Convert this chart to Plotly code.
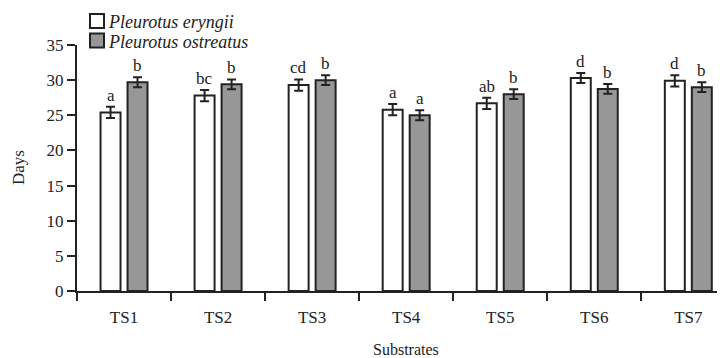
import plotly.graph_objects as go

categories = ["TS1", "TS2", "TS3", "TS4", "TS5", "TS6", "TS7"]
eryngii = [25.4, 27.8, 29.3, 25.8, 26.7, 30.3, 29.9]
eryngii_err = [0.8, 0.8, 0.8, 0.8, 0.8, 0.7, 0.8]
eryngii_letters = ["a", "bc", "cd", "a", "ab", "d", "d"]
ostreatus = [29.7, 29.4, 30.0, 25.0, 28.0, 28.75, 29.0]
ostreatus_err = [0.7, 0.7, 0.7, 0.7, 0.7, 0.7, 0.7]
ostreatus_letters = ["b", "b", "b", "a", "b", "b", "b"]
series_names = ["Pleurotus eryngii", "Pleurotus ostreatus"]
series_colors = ["white", "#979797"]

FONT = "Liberation Serif, Times New Roman, serif"
INK = "#222"

# page body has an 8px margin; figure occupies 8..725 x 8..358
W, H = 717, 350
L, T, B = 69, 37, 67
PW, PH = W - L, H - T - B

fig = go.Figure()
for name, vals, errs, col in [(series_names[0], eryngii, eryngii_err, series_colors[0]),
                              (series_names[1], ostreatus, ostreatus_err, series_colors[1])]:
    fig.add_trace(go.Bar(
        x=categories, y=vals, name=name,
        marker=dict(color=col, line=dict(color=INK, width=2)),
        error_y=dict(type="data", array=errs, color=INK, thickness=2, width=4.5),
    ))

annotations = []
for i, c in enumerate(categories):
    annotations.append(dict(x=c, y=eryngii[i] + eryngii_err[i], text=eryngii_letters[i],
                            xref="x", yref="y", showarrow=False, yanchor="bottom",
                            xshift=-13.5, yshift=0, font=dict(family=FONT, size=17, color=INK)))
    annotations.append(dict(x=c, y=ostreatus[i] + ostreatus_err[i], text=ostreatus_letters[i],
                            xref="x", yref="y", showarrow=False, yanchor="bottom",
                            xshift=13.5, yshift=0, font=dict(family=FONT, size=17, color=INK)))

# axis titles
annotations.append(dict(x=3.0, xref="x", y=(PH - (341 - T)) / PH, yref="paper",
                        text="Substrates", showarrow=False, yanchor="middle",
                        font=dict(family=FONT, size=16, color=INK)))
annotations.append(dict(x=(10 - L) / PW, xref="paper", y=(PH - (160 - T)) / PH, yref="paper",
                        text="Days", textangle=-90, showarrow=False, xanchor="center", yanchor="middle",
                        font=dict(family=FONT, size=17, color=INK)))

# legend (drawn as boxes + italic labels)
shapes = []
leg_y = [13, 32.5]  # centre y (figure px)
for k in range(2):
    y0 = (PH - (leg_y[k] + 7 - T)) / PH
    y1 = (PH - (leg_y[k] - 7 - T)) / PH
    shapes.append(dict(type="rect", xref="paper", yref="paper",
                       x0=(82 - L) / PW, x1=(96 - L) / PW, y0=y0, y1=y1,
                       fillcolor=series_colors[k], line=dict(color=INK, width=2)))
    annotations.append(dict(x=(98 - L) / PW, xref="paper", y=(PH - (leg_y[k] + 1 - T)) / PH, yref="paper",
                            text="<i>" + series_names[k] + "</i>", showarrow=False,
                            xanchor="left", yanchor="middle",
                            font=dict(family=FONT, size=18, color=INK)))

fig.update_layout(
    width=W, height=H,
    margin=dict(l=L, r=0, t=T, b=B, pad=0),
    paper_bgcolor="white", plot_bgcolor="white",
    barmode="group", bargap=0.426, bargroupgap=0.26,
    font=dict(family=FONT, size=17, color=INK),
    showlegend=False,
    annotations=annotations,
    shapes=shapes,
)

fig.update_xaxes(
    range=[-0.5, 6.39], showline=True, linecolor=INK, linewidth=2,
    ticks="outside", ticklen=8, tickwidth=2, tickcolor=INK, tickson="boundaries",
    ticklabelstandoff=10,
    showgrid=False, zeroline=False, tickfont=dict(family=FONT, size=17, color=INK),
)
fig.update_yaxes(
    range=[0, 35], dtick=5, showline=True, linecolor=INK, linewidth=2,
    ticks="outside", ticklen=8, tickwidth=2, tickcolor=INK,
    showgrid=False, zeroline=False, tickfont=dict(family=FONT, size=17, color=INK),
)

fig.write_html("out.html")
